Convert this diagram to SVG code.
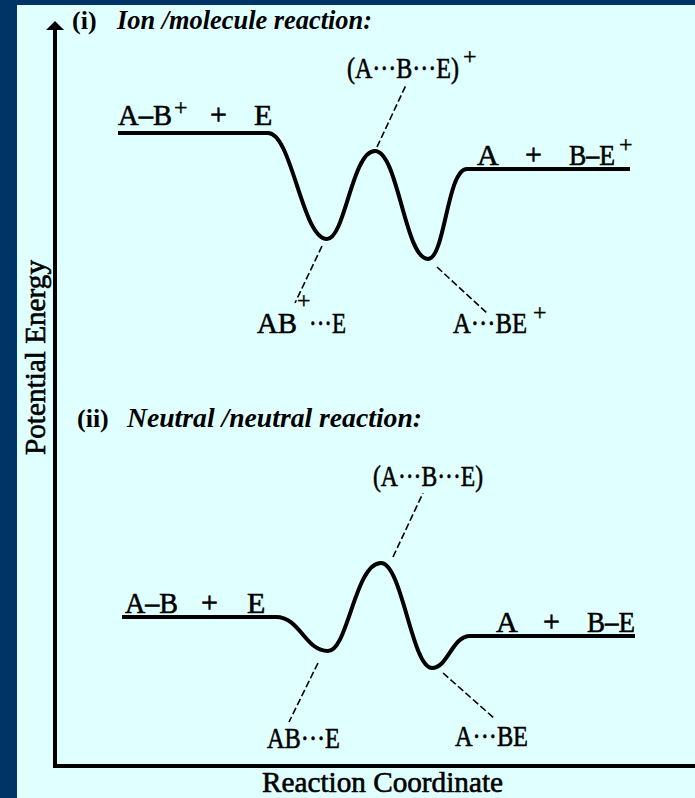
<svg xmlns="http://www.w3.org/2000/svg" width="695" height="798" viewBox="0 0 695 798">
  <style>
    .lbl { font-family: "Liberation Serif", "Times New Roman", serif; font-size: 30px; fill: #000; stroke: #000; stroke-width: 0.6; }
    .sup { font-family: "Liberation Serif", "Times New Roman", serif; font-size: 24px; fill: #000; stroke: #000; stroke-width: 0.4; }
    .ttl { font-family: "Liberation Serif", "Times New Roman", serif; font-size: 27px; font-weight: bold; font-style: italic; fill: #000; }
    .num { font-family: "Liberation Serif", "Times New Roman", serif; font-size: 26px; font-weight: bold; fill: #000; }
    .axl { font-family: "Liberation Serif", "Times New Roman", serif; font-size: 29px; fill: #000; stroke: #000; stroke-width: 0.6; }
    .curve { fill: none; stroke: #000; stroke-width: 4; stroke-linejoin: round; }
    .axis { fill: none; stroke: #000; stroke-width: 4; }
    .lead { fill: none; stroke: #000; stroke-width: 1.6; stroke-dasharray: 7 3; }
  </style>
  <rect x="0" y="0" width="695" height="798" fill="#003366"/>
  <rect x="17" y="5" width="678" height="793" fill="#E0FFFF"/>

  <g id="axes">
    <line class="axis" x1="55" y1="29" x2="55" y2="767"/>
    <polygon points="55,21 46,30 64,30" fill="#000"/>
    <line class="axis" x1="53" y1="766" x2="695" y2="766"/>
    <text class="axl" x="262" y="792" textLength="241" lengthAdjust="spacingAndGlyphs">Reaction Coordinate</text>
    <text class="axl" transform="translate(45,455) rotate(-90)" x="0" y="0" font-size="31" textLength="195" lengthAdjust="spacingAndGlyphs">Potential Energy</text>
  </g>

  <g id="title-i">
    <text class="num" x="72" y="29">(i)</text>
    <text class="ttl" x="117" y="29" textLength="255" lengthAdjust="spacingAndGlyphs">Ion /molecule reaction:</text>
  </g>
  <g id="title-ii">
    <text class="num" x="77" y="427">(ii)</text>
    <text class="ttl" x="127" y="427" textLength="295" lengthAdjust="spacingAndGlyphs">Neutral /neutral reaction:</text>
  </g>

  <g id="curve-i">
    <path class="curve" d="M118,133 L268,133 C292,133 302,239 327,239 C345,239 352,151 375,151 C398,151 405,259 428,259 C445,259 447,169 467,169 L630,169"/>
  </g>
  <g id="curve-ii">
    <path class="curve" d="M122,617 L276,617 C300,617 305,651 328,651 C348,651 355,563 381,563 C402,563 412,668 432,668 C448,668 452,636 470,636 L635,636"/>
  </g>

  <g id="connectors">
    <line class="lead" x1="377" y1="147" x2="406" y2="85"/>
    <line class="lead" x1="322" y1="246" x2="295" y2="303"/>
    <line class="lead" x1="437" y1="267" x2="488" y2="314"/>
    <line class="lead" x1="393" y1="557" x2="423" y2="493"/>
    <line class="lead" x1="318" y1="663" x2="289" y2="722"/>
    <line class="lead" x1="443" y1="673" x2="495" y2="719"/>
  </g>

  <g id="reactants-i">
    <text class="lbl" x="118" y="125" textLength="54" lengthAdjust="spacingAndGlyphs">A–B</text>
    <text class="sup" x="174" y="115">+</text>
    <text class="lbl" x="210" y="124">+</text>
    <text class="lbl" x="254" y="125">E</text>
  </g>
  <g id="ts-i">
    <text class="lbl" x="347" y="78" textLength="112" lengthAdjust="spacingAndGlyphs">(A···B···E)</text>
    <text class="sup" x="463" y="64">+</text>
  </g>
  <g id="products-i">
    <text class="lbl" x="477" y="165">A</text>
    <text class="lbl" x="525" y="164">+</text>
    <text class="lbl" x="569" y="165" textLength="46" lengthAdjust="spacingAndGlyphs">B–E</text>
    <text class="sup" x="619" y="152">+</text>
  </g>
  <g id="complex1-i">
    <text class="lbl" x="257" y="333" textLength="40" lengthAdjust="spacingAndGlyphs">AB</text>
    <text class="sup" x="297" y="308" font-size="20">+</text>
    <text class="lbl" x="309" y="333" textLength="37" lengthAdjust="spacingAndGlyphs">···E</text>
  </g>
  <g id="complex2-i">
    <text class="lbl" x="453" y="333" textLength="74" lengthAdjust="spacingAndGlyphs">A···BE</text>
    <text class="sup" x="533" y="320">+</text>
  </g>

  <g id="reactants-ii">
    <text class="lbl" x="125" y="613" textLength="53" lengthAdjust="spacingAndGlyphs">A–B</text>
    <text class="lbl" x="201" y="612">+</text>
    <text class="lbl" x="247" y="613">E</text>
  </g>
  <g id="ts-ii">
    <text class="lbl" x="373" y="486" textLength="110" lengthAdjust="spacingAndGlyphs">(A···B···E)</text>
  </g>
  <g id="products-ii">
    <text class="lbl" x="496" y="632">A</text>
    <text class="lbl" x="543" y="631">+</text>
    <text class="lbl" x="587" y="632" textLength="48" lengthAdjust="spacingAndGlyphs">B–E</text>
  </g>
  <g id="complex1-ii">
    <text class="lbl" x="267" y="748" textLength="73" lengthAdjust="spacingAndGlyphs">AB···E</text>
  </g>
  <g id="complex2-ii">
    <text class="lbl" x="455" y="746" textLength="73" lengthAdjust="spacingAndGlyphs">A···BE</text>
  </g>
</svg>
